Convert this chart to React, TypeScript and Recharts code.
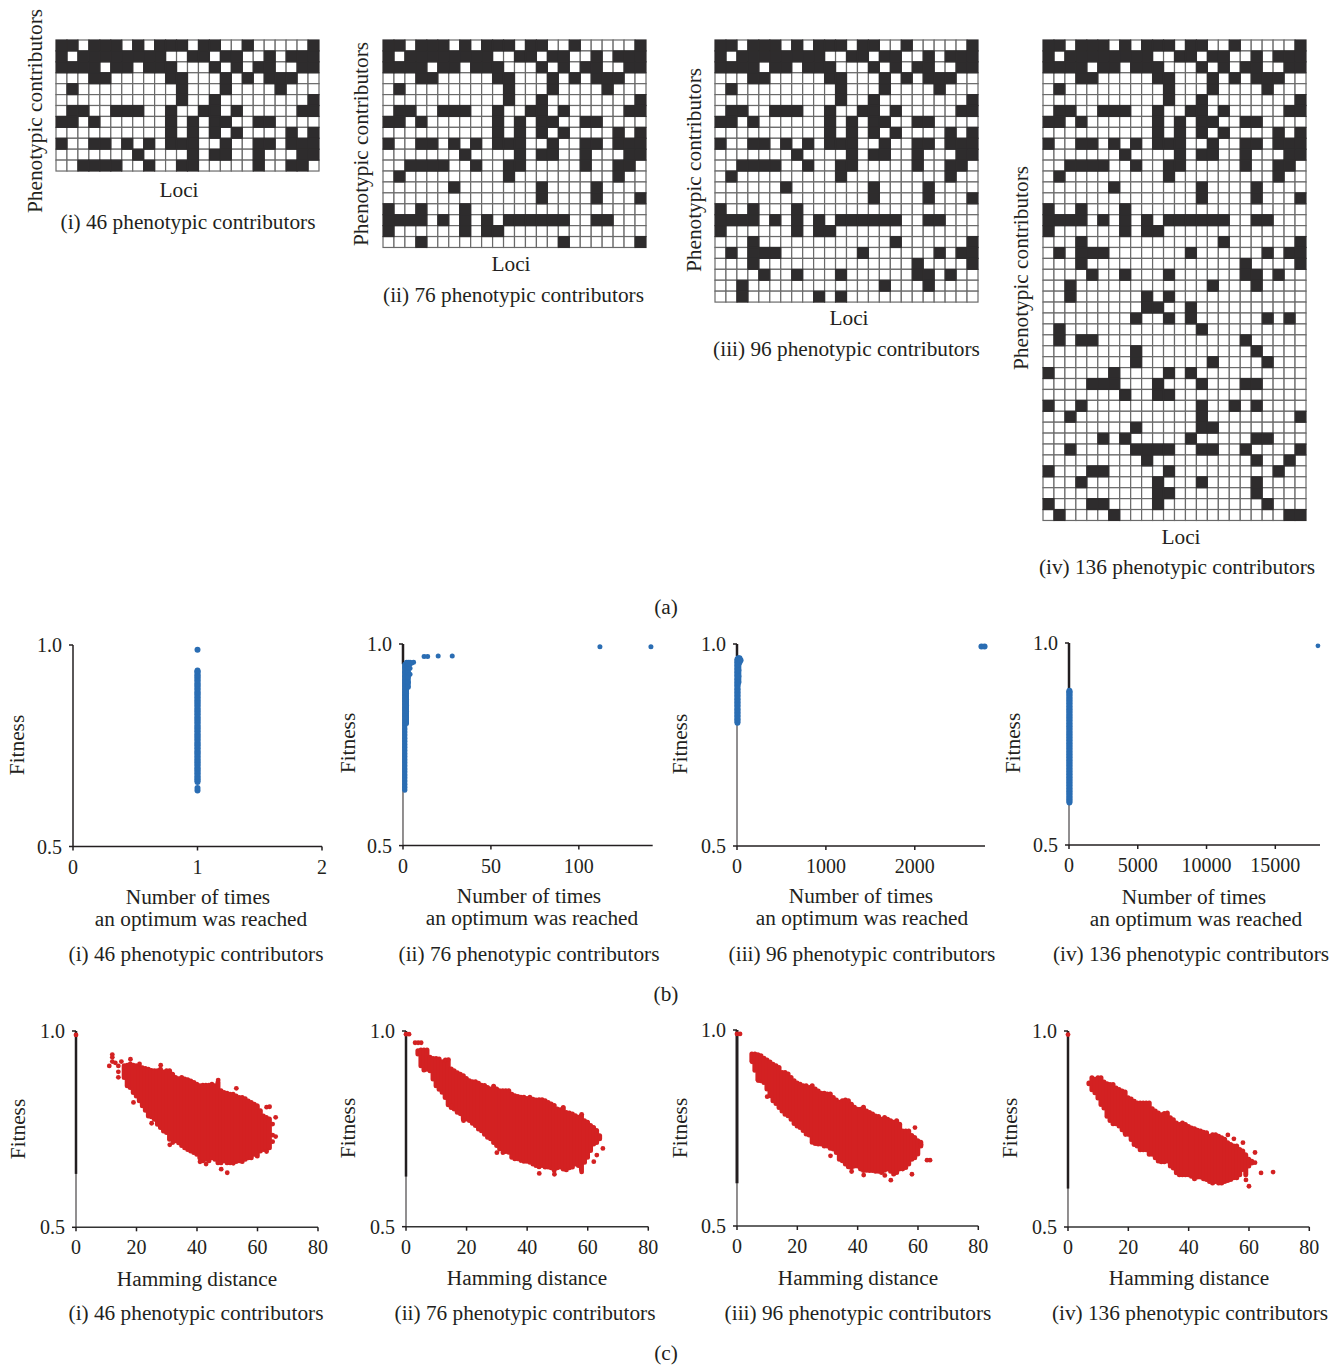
import React from 'react';
import { ComposedChart, ScatterChart, Scatter, Bar, XAxis, YAxis, ReferenceLine } from 'recharts';

const FONT = '"Liberation Serif", serif';
const INK = '#231f20';
const BLUE = '#2a6db3';
const RED = '#d32122';

// panel (a): one row per phenotypic contributor, # = locus contributes
const lociRows = [
  '##.###.#.###.##..#.....#',
  '#.########..##.##..#.###',
  '####.##.###...#.#.##..##',
  '...##.....##...#.#.###..',
  '.#.........#...#....#...',
  '...........#..#........#',
  '.##..###..#..##.#.....##',
  '##.#......#.#.##..##....',
  '..........#.#.#.#....#.#',
  '#..##.#.#.###..#..##.###',
  '.......#....#.##..#...##',
  '..####..#..##.....#..##.',
  '.#.........#.........#..',
  '......#.......#....#....',
  '..............#....#...#',
  '#..#...#................',
  '####.#.#.#.######..##...',
  '#......#.##.............',
  '...#............#......#',
  '.#.###.......#......#.##',
  '...#..............#....#',
  '....#..#...#......##.#..',
  '..#............#...#....',
  '..#......#.#............',
  '.........##..#..........',
  '........#..#.#......#.#.',
  '.#............#.........',
  '.#.##.............#.....',
  '........#..........#....',
  '........#......#....#...',
  '#.....#....#.#..........',
  '....###...#...#...##....',
  '.......#..##............',
  '#..#..........#..#.#....',
  '..#...........#........#',
  '........#.....##........',
  '.....#.#.....#.....##...',
  '..#.....####..##..#....#',
  '.........#.........#..#.',
  '#...##.....#.........#..',
  '...#......#...#....#....',
  '..........##.......#....',
  '#...##....#.........#...',
  '.#....#...............##',
];
const gridRowCounts = [12, 19, 24, 44];

// panel (b): fitness values per "number of times" value
const b1Strip = [0.66, 0.667, 0.673, 0.681, 0.688, 0.694, 0.702, 0.709, 0.715, 0.723, 0.73, 0.736, 0.744, 0.751, 0.757, 0.765, 0.772, 0.778, 0.786, 0.793, 0.799, 0.807, 0.814, 0.82, 0.828, 0.835, 0.841, 0.849, 0.856, 0.862, 0.87, 0.877, 0.883, 0.891, 0.898, 0.904, 0.912, 0.919, 0.925, 0.933, 0.937];
const b1Rest = [[1, 0.639], [1, 0.645], [1, 0.988]];
const b2Times1 = [0.637, 0.645, 0.652, 0.66, 0.668, 0.675, 0.683, 0.69, 0.698, 0.706, 0.713, 0.721, 0.728, 0.736, 0.744, 0.751, 0.759, 0.766, 0.774, 0.782, 0.789, 0.797, 0.804, 0.812, 0.82, 0.827, 0.835, 0.842, 0.85, 0.858, 0.865, 0.873, 0.88, 0.888, 0.896, 0.903, 0.911, 0.92, 0.93, 0.942, 0.95];
const b2Times2 = [0.803, 0.818, 0.833, 0.848, 0.863, 0.878, 0.893, 0.905, 0.918, 0.93, 0.94, 0.948, 0.955];
const b2Times3 = [0.893, 0.905, 0.918, 0.93, 0.942, 0.95, 0.955];
const b2Rest = [[4, 0.925], [4, 0.94], [4, 0.95], [4, 0.955], [5, 0.953], [6, 0.955], [12, 0.969], [14, 0.969], [20, 0.97], [28, 0.97], [112, 0.993], [141, 0.993]];
const b3Strip = [0.805, 0.813, 0.822, 0.83, 0.838, 0.847, 0.855, 0.863, 0.872, 0.88, 0.888, 0.897, 0.905, 0.913, 0.922, 0.93, 0.938, 0.947, 0.955, 0.962];
const b3Times15 = [0.905, 0.92, 0.935, 0.95, 0.965];
const b3Rest = [[28, 0.955], [28, 0.965], [40, 0.96], [2750, 0.994], [2785, 0.994]];
const b4Strip = [0.605, 0.612, 0.619, 0.626, 0.633, 0.64, 0.647, 0.654, 0.661, 0.668, 0.675, 0.682, 0.689, 0.696, 0.703, 0.71, 0.717, 0.724, 0.731, 0.738, 0.745, 0.752, 0.759, 0.766, 0.773, 0.78, 0.787, 0.794, 0.801, 0.808, 0.815, 0.822, 0.829, 0.836, 0.843, 0.85, 0.857, 0.864, 0.871, 0.878, 0.882];
const b4Rest = [[18100, 0.993]];

// panel (c): fitness spread at each Hamming distance, plus the loose dots
const c1Start = 16;
const c1High = [0.918, 0.919, 0.922, 0.919, 0.918, 0.916, 0.913, 0.911, 0.909, 0.906, 0.905, 0.905, 0.909, 0.902, 0.905, 0.905, 0.896, 0.888, 0.885, 0.888, 0.884, 0.882, 0.879, 0.875, 0.871, 0.867, 0.868, 0.868, 0.868, 0.871, 0.867, 0.875, 0.854, 0.85, 0.848, 0.845, 0.845, 0.841, 0.837, 0.837, 0.834, 0.828, 0.824, 0.82, 0.816, 0.803, 0.79, 0.786, 0.782];
const c1Low = [0.875, 0.854, 0.85, 0.837, 0.828, 0.816, 0.803, 0.792, 0.777, 0.775, 0.769, 0.756, 0.748, 0.739, 0.735, 0.718, 0.718, 0.714, 0.709, 0.702, 0.696, 0.692, 0.688, 0.684, 0.68, 0.671, 0.663, 0.667, 0.663, 0.671, 0.667, 0.658, 0.658, 0.663, 0.658, 0.658, 0.663, 0.661, 0.663, 0.661, 0.667, 0.671, 0.671, 0.68, 0.675, 0.688, 0.692, 0.692, 0.696];
const c1Dots = [[0, 0.99], [12, 0.94], [12, 0.933], [11, 0.911], [12, 0.922], [13, 0.919], [14, 0.911], [15, 0.922], [14, 0.896], [14, 0.882], [16, 0.909], [16, 0.884], [18, 0.928], [19, 0.818], [21, 0.916], [25, 0.765], [28, 0.913], [47, 0.875], [53, 0.854], [63, 0.806], [64, 0.807], [66, 0.78], [65, 0.763], [65, 0.735], [66, 0.731], [63, 0.693], [65, 0.718], [41, 0.667], [43, 0.661], [48, 0.648], [50, 0.639], [52, 0.663], [31, 0.71], [32, 0.716]];

const c2Start = 4;
const c2High = [0.956, 0.958, 0.958, 0.958, 0.939, 0.936, 0.936, 0.935, 0.928, 0.93, 0.93, 0.909, 0.905, 0.9, 0.896, 0.892, 0.885, 0.879, 0.877, 0.877, 0.873, 0.868, 0.867, 0.862, 0.858, 0.865, 0.858, 0.854, 0.854, 0.854, 0.854, 0.845, 0.841, 0.839, 0.837, 0.837, 0.834, 0.837, 0.832, 0.83, 0.831, 0.831, 0.828, 0.824, 0.82, 0.816, 0.807, 0.805, 0.811, 0.798, 0.797, 0.794, 0.79, 0.786, 0.79, 0.777, 0.773, 0.765, 0.76, 0.752, 0.739];
const c2Low = [0.935, 0.905, 0.894, 0.896, 0.892, 0.871, 0.854, 0.845, 0.837, 0.824, 0.805, 0.798, 0.794, 0.786, 0.782, 0.769, 0.769, 0.765, 0.758, 0.752, 0.743, 0.739, 0.73, 0.722, 0.718, 0.709, 0.701, 0.692, 0.692, 0.686, 0.684, 0.671, 0.667, 0.667, 0.663, 0.661, 0.661, 0.658, 0.654, 0.65, 0.647, 0.65, 0.646, 0.646, 0.644, 0.637, 0.644, 0.646, 0.641, 0.639, 0.644, 0.646, 0.654, 0.65, 0.639, 0.658, 0.671, 0.688, 0.705, 0.709, 0.718];
const c2Dots = [[0, 0.992], [1, 0.992], [3, 0.97], [4, 0.97], [5, 0.97], [65, 0.7], [63, 0.683], [62, 0.666], [58, 0.787], [44, 0.636], [49, 0.634], [30, 0.689], [32, 0.689], [19, 0.771], [15, 0.808], [13, 0.926], [14, 0.927], [58, 0.64]];

const c3Start = 5;
const c3High = [0.945, 0.945, 0.943, 0.941, 0.934, 0.93, 0.925, 0.919, 0.915, 0.911, 0.898, 0.898, 0.894, 0.885, 0.877, 0.871, 0.868, 0.864, 0.864, 0.86, 0.864, 0.856, 0.851, 0.845, 0.845, 0.843, 0.843, 0.834, 0.828, 0.822, 0.826, 0.828, 0.826, 0.817, 0.809, 0.804, 0.804, 0.809, 0.8, 0.796, 0.792, 0.787, 0.786, 0.779, 0.783, 0.779, 0.775, 0.771, 0.775, 0.766, 0.749, 0.749, 0.749, 0.737, 0.732, 0.724, 0.72];
const c3Low = [0.915, 0.891, 0.868, 0.864, 0.86, 0.843, 0.826, 0.813, 0.806, 0.796, 0.787, 0.779, 0.775, 0.766, 0.755, 0.749, 0.745, 0.737, 0.728, 0.726, 0.707, 0.704, 0.703, 0.703, 0.698, 0.698, 0.692, 0.69, 0.681, 0.664, 0.66, 0.652, 0.645, 0.643, 0.647, 0.647, 0.639, 0.635, 0.636, 0.635, 0.635, 0.633, 0.633, 0.63, 0.636, 0.639, 0.633, 0.626, 0.63, 0.639, 0.639, 0.643, 0.652, 0.664, 0.668, 0.677, 0.698];
const c3Dots = [[0, 0.99], [1, 0.99], [59, 0.751], [64, 0.668], [63, 0.668], [61, 0.707], [58, 0.632], [51, 0.617], [49, 0.629], [42, 0.63], [38, 0.639], [31, 0.679], [10, 0.83], [7, 0.871], [5, 0.919]];

const c4Start = 7;
const c4High = [0.874, 0.887, 0.883, 0.887, 0.887, 0.876, 0.872, 0.87, 0.87, 0.861, 0.857, 0.853, 0.851, 0.836, 0.833, 0.827, 0.823, 0.823, 0.823, 0.823, 0.823, 0.808, 0.802, 0.797, 0.793, 0.796, 0.797, 0.785, 0.78, 0.772, 0.768, 0.772, 0.768, 0.763, 0.759, 0.757, 0.753, 0.751, 0.748, 0.747, 0.738, 0.742, 0.742, 0.738, 0.734, 0.73, 0.721, 0.717, 0.713, 0.713, 0.704, 0.7, 0.691, 0.679, 0.674];
const c4Low = [0.859, 0.844, 0.836, 0.823, 0.806, 0.797, 0.776, 0.765, 0.757, 0.757, 0.751, 0.742, 0.734, 0.73, 0.717, 0.704, 0.7, 0.691, 0.691, 0.691, 0.679, 0.679, 0.67, 0.662, 0.66, 0.66, 0.662, 0.649, 0.644, 0.632, 0.627, 0.627, 0.627, 0.627, 0.623, 0.617, 0.621, 0.621, 0.617, 0.615, 0.61, 0.606, 0.61, 0.606, 0.606, 0.61, 0.612, 0.615, 0.619, 0.619, 0.627, 0.64, 0.627, 0.649, 0.657];
const c4Dots = [[0, 0.991], [53, 0.735], [55, 0.725], [58, 0.715], [62, 0.69], [62, 0.664], [64, 0.638], [68, 0.64], [59, 0.62], [60, 0.604], [19, 0.736]];

const contributorLabels = ['(i) 46 phenotypic contributors', '(ii) 76 phenotypic contributors', '(iii) 96 phenotypic contributors', '(iv) 136 phenotypic contributors'];
const hammingTicks = [0, 20, 40, 60, 80];
const fitnessTicks = [0.5, 1];

const column = (x: number, ys: number[]) => ys.map((y) => ({ x, y }));
const pairs = (list: number[][]) => list.map(([x, y]) => ({ x, y }));

function T({ x, y, children, rotate, size = 21.3, lineHeight = 0.9 }: any) {
  return (
    <div
      style={{
        position: 'absolute',
        left: rotate ? x + 1 : x,
        top: rotate ? y : y + 1,
        transform: `translate(-50%, -50%)${rotate ? ' rotate(-90deg)' : ''}`,
        whiteSpace: 'nowrap',
        textAlign: 'center',
        fontFamily: FONT,
        fontSize: size,
        lineHeight,
        color: INK,
      }}
    >
      {children}
    </div>
  );
}

function LociGrid({ x, y, rows }: any) {
  const w = 263;
  const h = rows * 10.92;
  const cw = w / 24;
  const cells = lociRows.slice(0, rows).flatMap((r, row) =>
    r.split('').map((c, col) => ({ col: col + 0.5, row: row + 0.5, on: c === '#' }))
  );
  const cellShape = (fill: string, stroke: string) => (p: any) =>
    <rect x={p.cx - cw / 2} y={p.cy - h / rows / 2} width={cw} height={h / rows} fill={fill} stroke={stroke} strokeWidth={1.2} />;
  return (
    <div style={{ position: 'absolute', left: x - 2, top: y - 2 }}>
      <ScatterChart width={w + 4} height={h + 4} margin={{ top: 2, right: 2, bottom: 2, left: 2 }}>
        <XAxis type="number" dataKey="col" domain={[0, 24]} hide />
        <YAxis type="number" dataKey="row" domain={[0, rows]} reversed hide />
        <Scatter data={cells.filter((c) => !c.on)} isAnimationActive={false} shape={cellShape('#fff', '#6a6a6a')} />
        <Scatter data={cells.filter((c) => c.on)} isAnimationActive={false} shape={cellShape('#2e2c2d', '#2e2c2d')} />
      </ScatterChart>
    </div>
  );
}

const axisProps = {
  tick: { fontFamily: FONT, fontSize: 20, fill: INK },
  tickLine: { stroke: INK, strokeWidth: 1.5 },
  tickSize: 4,
};

function TimesPlot({ x, y, w, h, max, ticks, strips, points, r, restR, thickTo, lineWidth = 1 }: any) {
  const dot = (p: any) => <circle cx={p.cx} cy={p.cy} r={r} fill={BLUE} />;
  const restDot = (p: any) => <circle cx={p.cx} cy={p.cy} r={restR ?? r} fill={BLUE} />;
  return (
    <div style={{ position: 'absolute', left: x - 50, top: y - 12 }}>
      <ScatterChart width={w + 75} height={h + 48} margin={{ top: 12, right: 25, bottom: 0, left: 0 }}>
        <XAxis type="number" dataKey="x" domain={[0, max]} ticks={ticks} interval={0} height={36} tickMargin={9}
          axisLine={{ stroke: INK, strokeWidth: 1.5 }} {...axisProps} />
        <YAxis type="number" dataKey="y" domain={[0.5, 1]} ticks={fitnessTicks} interval={0} width={50} tickMargin={7}
          tickFormatter={(v: number) => v.toFixed(1)} axisLine={{ stroke: INK, strokeWidth: lineWidth }} {...axisProps} />
        {thickTo && <ReferenceLine segment={[{ x: 0, y: 1 }, { x: 0, y: thickTo }]} stroke={INK} strokeWidth={2.5} />}
        {strips.map((s: any, i: number) => (
          <Scatter key={i} data={s} isAnimationActive={false} line={{ stroke: BLUE, strokeWidth: r * 2 }} shape={dot} />
        ))}
        <Scatter data={points} isAnimationActive={false} shape={restDot} />
      </ScatterChart>
    </div>
  );
}

function HammingPlot({ x, y, w, h, start, high, low, dots, thickTo, thick = 2.5 }: any) {
  const spread = high.map((hi: number, i: number) => ({ d: start + i, range: [low[i], hi] }));
  // a column of overlapping dots at one distance, wider than the 1-unit band
  const columnShape = (p: any) => (
    <rect x={p.x + p.width / 2 - 2.5} y={p.y} width={5} height={Math.max(p.height, 5)} rx={2.5} fill={RED} />
  );
  return (
    <div style={{ position: 'absolute', left: x - 50, top: y - 12 }}>
      <ComposedChart width={w + 75} height={h + 48} data={spread} margin={{ top: 12, right: 25, bottom: 0, left: 0 }}>
        <XAxis type="number" dataKey="d" domain={[0, 80]} ticks={hammingTicks} interval={0} height={36} tickMargin={9}
          axisLine={{ stroke: '#333', strokeWidth: 1.5 }} {...axisProps} />
        <YAxis type="number" domain={[0.5, 1]} ticks={fitnessTicks} interval={0} width={50} tickMargin={7}
          tickFormatter={(v: number) => v.toFixed(1)} axisLine={{ stroke: INK, strokeWidth: 1 }} {...axisProps} />
        <ReferenceLine segment={[{ x: 0, y: 1 }, { x: 0, y: thickTo }]} stroke={INK} strokeWidth={thick} />
        <Bar dataKey="range" fill={RED} isAnimationActive={false} shape={columnShape} />
        <Scatter data={dots.map(([d, f]: number[]) => ({ d, f }))} dataKey="f" isAnimationActive={false}
          shape={(p: any) => <circle cx={p.cx} cy={p.cy} r={2.4} fill={RED} />} />
      </ComposedChart>
    </div>
  );
}

const fitnessA = [[35, 111], [361, 144], [694, 170], [1021, 268]];
const lociA = [[179, 190], [511, 264], [849, 318], [1181, 537]];
const captionA = [[188, 222], [513.5, 295], [846.5, 349], [1177, 567]];
const fitnessB = [[17, 745], [348, 743], [680, 744], [1013, 743]];
const timesB = [[198, 897, 201, 919], [529, 896, 532, 918], [861, 896, 862, 918], [1194, 897, 1196, 919]];
const captionB = [[196, 954], [529, 954], [862, 954], [1191, 954]];
const fitnessC = [[18, 1129], [348, 1128], [680, 1128], [1010, 1128]];
const hammingC = [[197, 1279], [527, 1278], [858, 1278], [1189, 1278]];
const captionC = [[196, 1313], [525, 1313], [858, 1313], [1190, 1313]];

export default function App() {
  return (
    <div style={{ position: 'absolute', left: 0, top: 0, width: 1344, height: 1367, background: '#fff', overflow: 'hidden' }}>
      <LociGrid x={56} y={40} rows={gridRowCounts[0]} />
      <LociGrid x={383} y={40} rows={gridRowCounts[1]} />
      <LociGrid x={715} y={40} rows={gridRowCounts[2]} />
      <LociGrid x={1043} y={40} rows={gridRowCounts[3]} />

      <TimesPlot x={73} y={645} w={249} h={201.5} max={2} ticks={[0, 1, 2]} r={3} lineWidth={1.5}
        strips={[column(1, b1Strip)]} points={pairs(b1Rest)} />
      <TimesPlot x={403.3} y={643.7} w={249.7} h={201.6} max={142} ticks={[0, 50, 100]} r={2.5} thickTo={0.95}
        strips={[column(1, b2Times1), column(2, b2Times2), column(3, b2Times3)]} points={pairs(b2Rest)} />
      <TimesPlot x={737} y={644} w={248} h={202} max={2790} ticks={[0, 1000, 2000]} r={3} thickTo={0.97}
        strips={[column(5, b3Strip), column(15, b3Times15)]} points={pairs(b3Rest)} />
      <TimesPlot x={1069} y={643} w={251} h={202} max={18250} ticks={[0, 5000, 10000, 15000]} r={3} restR={2.4} thickTo={0.885}
        strips={[column(30, b4Strip)]} points={pairs(b4Rest)} />

      <HammingPlot x={76} y={1031} w={242} h={196.3} start={c1Start} high={c1High} low={c1Low} dots={c1Dots} thickTo={0.636} />
      <HammingPlot x={406} y={1031} w={242.3} h={195.7} start={c2Start} high={c2High} low={c2Low} dots={c2Dots} thickTo={0.628} />
      <HammingPlot x={737} y={1030} w={241.3} h={196} start={c3Start} high={c3High} low={c3Low} dots={c3Dots} thickTo={0.609} thick={3} />
      <HammingPlot x={1068} y={1030.7} w={241.3} h={196} start={c4Start} high={c4High} low={c4Low} dots={c4Dots} thickTo={0.598} />

      {fitnessA.map(([x, y], i) => <T key={i} x={x} y={y} rotate>Phenotypic contributors</T>)}
      {lociA.map(([x, y], i) => <T key={i} x={x} y={y}>Loci</T>)}
      {captionA.map(([x, y], i) => <T key={i} x={x} y={y}>{contributorLabels[i]}</T>)}
      <T x={666} y={607}>(a)</T>

      {fitnessB.map(([x, y], i) => <T key={i} x={x} y={y} rotate>Fitness</T>)}
      {timesB.map(([x1, y1, x2, y2], i) => (
        <T key={i} x={x2} y={(y1 + y2) / 2 - 1} lineHeight={`${y2 - y1}px`}>
          <span style={{ position: 'relative', left: x1 - x2 }}>Number of times</span>
          <br />
          an optimum was reached
        </T>
      ))}
      {captionB.map(([x, y], i) => <T key={i} x={x} y={y}>{contributorLabels[i]}</T>)}
      <T x={666} y={994}>(b)</T>

      {fitnessC.map(([x, y], i) => <T key={i} x={x} y={y} rotate>Fitness</T>)}
      {hammingC.map(([x, y], i) => <T key={i} x={x} y={y}>Hamming distance</T>)}
      {captionC.map(([x, y], i) => <T key={i} x={x} y={y}>{contributorLabels[i]}</T>)}
      <T x={666} y={1353}>(c)</T>
    </div>
  );
}
